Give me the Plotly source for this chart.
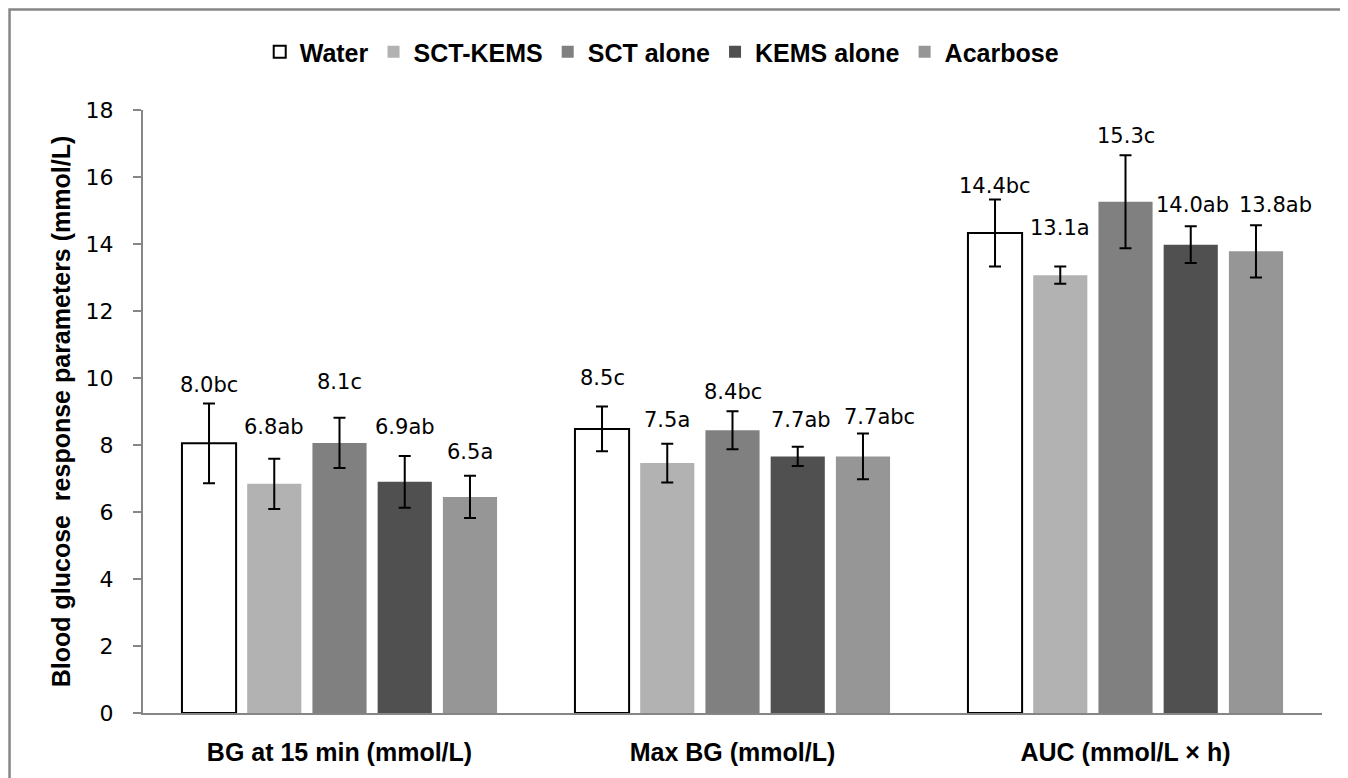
import plotly.graph_objects as go

categories = ["BG at 15 min (mmol/L)", "Max BG (mmol/L)", "AUC (mmol/L × h)"]
series_names = ["Water", "SCT-KEMS", "SCT alone", "KEMS alone", "Acarbose"]

water = [8.05, 8.48, 14.33]
sct_kems = [6.84, 7.46, 13.07]
sct_alone = [8.06, 8.44, 15.26]
kems_alone = [6.90, 7.66, 13.98]
acarbose = [6.45, 7.66, 13.78]

water_err = [1.19, 0.67, 1.00]
sct_kems_err = [0.75, 0.58, 0.26]
sct_alone_err = [0.75, 0.57, 1.39]
kems_alone_err = [0.77, 0.29, 0.55]
acarbose_err = [0.63, 0.68, 0.78]

water_lbl = ["8.0bc", "8.5c", "14.4bc"]
sct_kems_lbl = ["6.8ab", "7.5a", "13.1a"]
sct_alone_lbl = ["8.1c", "8.4bc", "15.3c"]
kems_alone_lbl = ["6.9ab", "7.7ab", "14.0ab"]
acarbose_lbl = ["6.5a", "7.7abc", "13.8ab"]

# styling of the hand-placed data labels: lift (px above bar top) and sideways nudge (px)
water_lift = [58, 51, 47]
sct_kems_lift = [57, 43, 47]
sct_alone_lift = [61, 38, 66]
kems_alone_lift = [55, 36, 40]
acarbose_lift = [45, 39, 46]
kems_alone_dx = [0, 3, 2]
acarbose_dx = [0, 17, 20]
other_dx = [0, 0, 0]

fill_colors = ["#FFFFFF", "#B2B2B2", "#808080", "#505050", "#969696"]
line_colors = ["#000000", "rgba(0,0,0,0)", "rgba(0,0,0,0)", "rgba(0,0,0,0)", "rgba(0,0,0,0)"]
line_widths = [2, 0, 0, 0, 0]

values = [water, sct_kems, sct_alone, kems_alone, acarbose]
errors = [water_err, sct_kems_err, sct_alone_err, kems_alone_err, acarbose_err]
labels = [water_lbl, sct_kems_lbl, sct_alone_lbl, kems_alone_lbl, acarbose_lbl]
lifts = [water_lift, sct_kems_lift, sct_alone_lift, kems_alone_lift, acarbose_lift]
nudges = [other_dx, other_dx, other_dx, kems_alone_dx, acarbose_dx]

BOLD_FONT = "Liberation Sans, Arial, sans-serif"
NUM_FONT = "DejaVu Sans, Verdana, sans-serif"
GAP = 0.17
W, H = 1340, 770
ML, MR, MT, MB = 135, 26, 102, 65
n_series = len(series_names)
slot_px = (W - ML - MR) / len(categories) * (1 - GAP) / n_series

fig = go.Figure()
for i, name in enumerate(series_names):
    fig.add_trace(go.Bar(
        x=categories, y=values[i], name=name,
        offsetgroup=str(i),
        marker=dict(color=fill_colors[i], line=dict(color=line_colors[i], width=line_widths[i])),
        error_y=dict(type="data", array=errors[i], visible=True, color="#000000", thickness=2, width=6),
        hoverinfo="skip",
    ))

annotations = []
for i in range(n_series):
    for j, cat in enumerate(categories):
        annotations.append(dict(
            x=cat, y=values[i][j], xref="x", yref="y", text=labels[i][j], showarrow=False,
            xanchor="center", yanchor="middle",
            xshift=(i - (n_series - 1) / 2) * slot_px + nudges[i][j], yshift=lifts[i][j],
            font=dict(family=NUM_FONT, size=21, color="#000000"),
        ))

fig.update_layout(
    width=W, height=H,
    margin=dict(l=ML, r=MR, t=MT, b=MB),
    paper_bgcolor="#FFFFFF", plot_bgcolor="#FFFFFF",
    barmode="group", bargap=GAP, bargroupgap=0.17,
    font=dict(family=NUM_FONT, size=22, color="#000000"),
    showlegend=True,
    legend=dict(orientation="h", x=0.099, xanchor="left", y=1.096, yanchor="middle",
                font=dict(family=BOLD_FONT, size=25, color="#000000", weight="bold"),
                traceorder="normal", itemwidth=30),
    xaxis=dict(showline=True, linecolor="#868686", linewidth=2, ticks="", showgrid=False,
               tickfont=dict(family=BOLD_FONT, size=25, color="#000000", weight="bold"),
               ticklabelstandoff=16),
    yaxis=dict(range=[0, 18], dtick=2, showline=True, linecolor="#868686", linewidth=2,
               ticks="outside", ticklen=8, tickcolor="#868686", tickwidth=2, showgrid=False, zeroline=False,
               tickfont=dict(family=NUM_FONT, size=22, color="#000000"), ticklabelstandoff=15,
               title=dict(text="Blood glucose  response parameters (mmol/L)", standoff=8,
                          font=dict(family=BOLD_FONT, size=25, color="#000000", weight="bold"))),
    annotations=annotations,
    shapes=[dict(type="rect", xref="paper", yref="paper", x0=-0.1132, y0=-0.3, x1=1.2, y1=1.1667,
                 line=dict(color="#868686", width=2.5), fillcolor="rgba(0,0,0,0)", layer="below")],
)

fig.write_html("out.html")
